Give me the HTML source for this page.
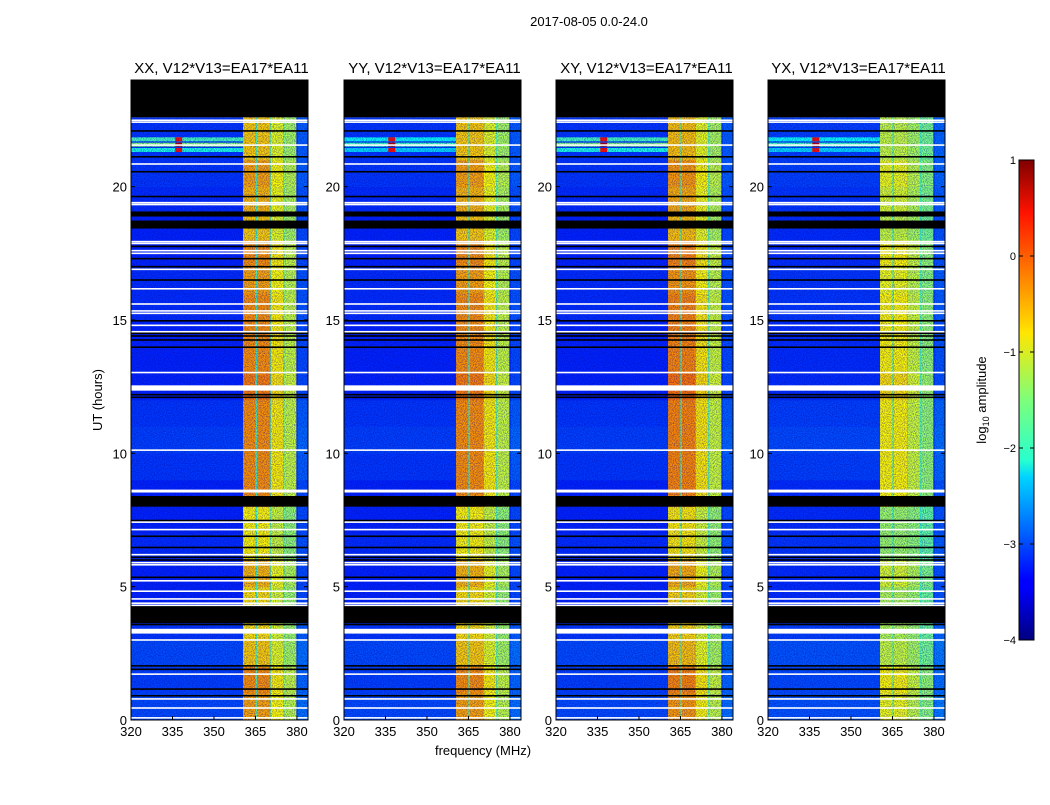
<!DOCTYPE html>
<html><head><meta charset="utf-8"><style>
body{margin:0;background:#fff;}
svg text{font-family:"Liberation Sans",sans-serif;}
</style></head><body>
<svg id="fig" width="1050" height="800" viewBox="0 0 1050 800" xmlns="http://www.w3.org/2000/svg">
<defs>
<linearGradient id="jet" x1="0" y1="1" x2="0" y2="0">
<stop offset="0" stop-color="#00007f"/><stop offset="0.11" stop-color="#0000ff"/><stop offset="0.125" stop-color="#0000ff"/>
<stop offset="0.34" stop-color="#00d4ff"/><stop offset="0.375" stop-color="#29ffce"/><stop offset="0.5" stop-color="#7dff7a"/>
<stop offset="0.64" stop-color="#ffe600"/><stop offset="0.66" stop-color="#ffd400"/><stop offset="0.89" stop-color="#ff1300"/><stop offset="1" stop-color="#7f0000"/>
</linearGradient>
<filter id="speckle" x="0" y="0" width="100%" height="100%">
<feTurbulence type="fractalNoise" baseFrequency="0.9" numOctaves="1" seed="3"/>
<feColorMatrix type="matrix" values="0 0 0 0 0  0 0 0 0 0  0 0 0 0 0.3  0 0 0 1.2 -0.45"/>
</filter>
</defs>
<text x="589" y="26" font-size="13" text-anchor="middle">2017-08-05 0.0-24.0</text>
<text x="483" y="755" font-size="13" text-anchor="middle">frequency (MHz)</text>
<text x="102" y="400" font-size="13" text-anchor="middle" transform="rotate(-90 102 400)">UT (hours)</text>
<g id="panels"></g>
<g id="cbar"></g>
</svg>
<script>
const panelTitles=["XX, V12*V13=EA17*EA11","YY, V12*V13=EA17*EA11","XY, V12*V13=EA17*EA11","YX, V12*V13=EA17*EA11"];
const panelX=[131,344,556,768];
const bandStart=[320,360.5,365,365.5,370.4,370.6,375.1,375.4,379.8,380.2];
const bandEnd=[360.5,365,365.5,370.4,370.6,375.1,375.4,379.8,380.2,384];
const bandLevel=[-3.2,-0.65,-2.0,-0.65,-2.2,-1.0,-2.2,-1.3,-3.3,-3.0];
const bandIsSignal=[0,1,0,1,0,0.6,0,0.5,0,0];
const hourBandBoost=[0.2,0.3,0,-0.1,-0.1,0.1,-0.2,-0.2,0.3,0.3,0.3,0.3,0.4,0.3,0.3,0.3,0.2,0.3,0,0.1,0.2,0,0,0];
const hourBgBoost=[0.2,0.15,0.2,0.1,0,0,0.05,0,0,0.1,0.15,0.1,0,0,0,0.05,0.05,0,0,0.05,0.1,0.1,0.1,0];
const panelBandOff=[0,0,0.05,-0.5];
const panelBgOff=[0,0,0,0.05];
const rfiStart=[21.3,21.5,21.7];
const rfiEnd=[21.45,21.65,21.85];
const rfiLevel=[-2.0,-1.5,-1.8];
const rfiPeak=[0.3,0.7,0.3];
const noDataStart=22.6;
const gapHour=[22.49,22.42,22.09,21.56,21.12,20.85,20.56,19.63,19.4,19.33,17.94,17.87,17.76,17.6,17.5,17.3,17.0,16.9,16.5,16.17,15.6,15.34,15.25,14.97,14.8,14.56,14.5,14.4,14.25,13.98,13.03,12.2,12.1,10.12,7.48,7.42,7.14,6.89,6.47,6.2,6.1,6.0,5.9,5.82,5.35,5.22,4.83,4.54,4.38,4.3,3.58,3.0,2.03,1.9,1.72,1.16,0.91,0.79,0.45,0.08];
const gapColor=["w","w","k","w","k","w","k","k","w","w","w","w","k","w","w","k","k","w","k","w","w","w","w","k","w","w","k","k","k","k","w","k","k","w","k","w","w","k","k","w","k","k","w","w","k","w","w","w","w","w","k","w","k","k","w","k","k","w","w","w"];
const blockStart=[18.88,18.43,12.35,8.0,8.53,3.63,3.24];
const blockEnd=[19.07,18.73,12.55,8.4,8.64,4.28,3.42];
const blockColor=["k","k","w","k","w","k","w"];
const xTicks=[320,335,350,365,380];
const yTicks=[0,5,10,15,20];
const cbTicks=[1,0,-1,-2,-3,-4];

const NS="http://www.w3.org/2000/svg";
const PW=177,PT=80,PB=720;
function jet(v){let t=(v+4)/5;t=Math.max(0,Math.min(1,t));
 const c=x=>Math.round(255*Math.max(0,Math.min(1,x)));
 return `rgb(${c(1.5-Math.abs(4*t-3))},${c(1.5-Math.abs(4*t-2))},${c(1.5-Math.abs(4*t-1))})`;}
function yS(h){return PB-h*(PB-PT)/24;}
function mk(tag,attrs,parent){const e=document.createElementNS(NS,tag);for(const k in attrs)e.setAttribute(k,attrs[k]);parent.appendChild(e);return e;}
const panels=document.getElementById('panels');
panelX.forEach((x0,p)=>{
 const xS=f=>x0+(f-320)*PW/64;
 const g=mk('g',{},panels);
 
 
 const t=mk('text',{x:x0+PW/2+2,y:73,'font-size':15,'text-anchor':'middle'},g);
 t.textContent=panelTitles[p];
 
 
 const hm=mk('g',{},g);
 
 
 for(let r=0;r<noDataStart*4;r++){
  const h0=r/4,h1=Math.min(noDataStart,(r+1)/4),hi=Math.floor(h0);
  for(let b=0;b<bandStart.length;b++){
   let v=bandLevel[b];
   if(bandIsSignal[b]>0) v+=bandIsSignal[b]*(hourBandBoost[hi]+panelBandOff[p]);
   else v+=hourBgBoost[hi]+panelBgOff[p];
   const c=mk('rect',{x:xS(bandStart[b]),y:yS(h1),width:xS(bandEnd[b])-xS(bandStart[b])+0.3,height:yS(h0)-yS(h1)+0.3,fill:jet(v)},hm);
   
   
  }
 }
 rfiStart.forEach((s,i)=>{
  const a=mk('rect',{x:xS(320),y:yS(rfiEnd[i]),width:xS(360.5)-xS(320),height:yS(rfiStart[i])-yS(rfiEnd[i]),fill:jet(rfiLevel[i]-(p==1||p==3?0.3:0))},hm);
  
  
  const b=mk('rect',{x:xS(336),y:yS(rfiEnd[i]),width:xS(338.5)-xS(336),height:yS(rfiStart[i])-yS(rfiEnd[i]),fill:jet(rfiPeak[i])},hm);
  
  
 });
 const sp=mk('rect',{x:x0,y:PT,width:PW,height:PB-PT,filter:'url(#speckle)'},g);
 
 
 const nd=mk('rect',{x:x0,y:PT,width:PW,height:yS(noDataStart)-PT,fill:'#000'},g);
 
 
 blockStart.forEach((s,i)=>{
  const e=mk('rect',{x:x0,y:yS(blockEnd[i]),width:PW,height:yS(s)-yS(blockEnd[i]),fill:blockColor[i]=='k'?'#000':'#fff'},g);
  
  
 });
 gapHour.forEach((h,i)=>{
  const e=mk('rect',{x:x0,y:yS(h)-0.8,width:PW,height:1.6,fill:gapColor[i]=='k'?'#000':'#fff'},g);
  
  
 });
 const fr=mk('rect',{x:x0,y:PT,width:PW,height:PB-PT,fill:'none',stroke:'#000','stroke-width':1},g);
 
 
 xTicks.forEach(f=>{
  const x=xS(f);
  mk('line',{x1:x,x2:x,y1:PB,y2:PB-4,stroke:'#000'},g);
  mk('line',{x1:x,x2:x,y1:PT,y2:PT+4,stroke:'#000'},g);
  const l=mk('text',{x:x,y:PB+16,'font-size':13,'text-anchor':'middle'},g);
  l.textContent=f;
  
  
 });
 yTicks.forEach(h=>{
  const y=yS(h);
  mk('line',{x1:x0,x2:x0+4,y1:y,y2:y,stroke:'#000'},g);
  mk('line',{x1:x0+PW,x2:x0+PW-4,y1:y,y2:y,stroke:'#000'},g);
  const l=mk('text',{x:x0-4,y:y+5,'font-size':13,'text-anchor':'end'},g);
  l.textContent=h;
  
  
 });
});
const cb=document.getElementById('cbar');
const CT=160,CB=640,CX=1019,CW=15;
mk('rect',{x:CX,y:CT,width:CW,height:CB-CT,fill:'url(#jet)',stroke:'#000'},cb);
cbTicks.forEach(v=>{
 const y=CB-(v+4)/5*(CB-CT);
 mk('line',{x1:CX,x2:CX+4,y1:y,y2:y,stroke:'#000'},cb);
 mk('line',{x1:CX+CW,x2:CX+CW-4,y1:y,y2:y,stroke:'#000'},cb);
 const l=mk('text',{x:CX-3,y:y+4,'font-size':11,'text-anchor':'end'},cb);
 l.textContent=v<0?'\u2212'+(-v):String(v);
 
 
});
const cl=mk('text',{x:986,y:400,'font-size':13,'text-anchor':'middle',transform:'rotate(-90 986 400)'},cb);
cl.innerHTML='log<tspan font-size="9" dy="3">10</tspan><tspan dy="-3"> amplitude</tspan>';


</script>
</body></html>
